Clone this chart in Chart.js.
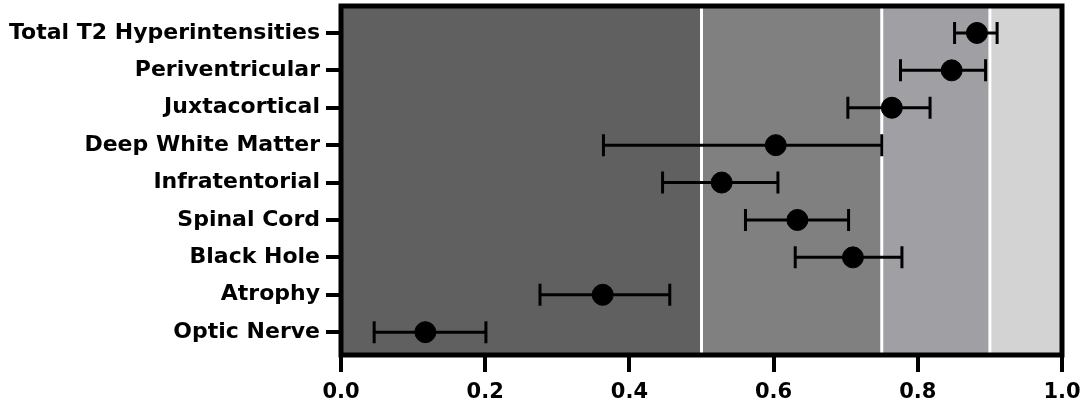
<!DOCTYPE html>
<html>
<head>
<meta charset="utf-8">
<script src="https://cdn.jsdelivr.net/npm/chart.js@4/dist/chart.umd.min.js"></script>
<style>
  html, body { margin: 0; padding: 0; background: #fff; }
  #wrap { width: 1084px; height: 405px; }
</style>
</head>
<body>
<div id="wrap"><canvas id="myChart" width="1084" height="405"></canvas></div>
<script>
const categories = [
  "Total T2 Hyperintensities",
  "Periventricular",
  "Juxtacortical",
  "Deep White Matter",
  "Infratentorial",
  "Spinal Cord",
  "Black Hole",
  "Atrophy",
  "Optic Nerve",
];
const means = [0.882, 0.847, 0.764, 0.603, 0.528, 0.633, 0.710, 0.363, 0.117];
const lower = [0.851, 0.776, 0.703, 0.364, 0.446, 0.561, 0.630, 0.276, 0.046];
const upper = [0.910, 0.894, 0.817, 0.750, 0.606, 0.704, 0.778, 0.456, 0.201];
const xTicks = [0, 0.2, 0.4, 0.6, 0.8, 1.0];

// background bands (x ranges) and their greys
const bandEdges = [0, 0.5, 0.75, 0.9, 1.0];
const bandColors = ["#606060", "#808080", "#a09fa3", "#d3d3d3"];

const fontFamily = "'DejaVu Sans', 'Liberation Sans', Arial, sans-serif";

const bandsPlugin = {
  id: "bands",
  beforeDatasetsDraw(chart) {
    const { ctx, chartArea: a, scales: { x } } = chart;
    ctx.save();
    for (let i = 0; i < bandColors.length; i++) {
      const x0 = x.getPixelForValue(bandEdges[i]);
      const x1 = x.getPixelForValue(bandEdges[i + 1]);
      ctx.fillStyle = bandColors[i];
      ctx.fillRect(x0, a.top, x1 - x0, a.bottom - a.top);
    }
    ctx.strokeStyle = "#ffffff";
    ctx.lineWidth = 3;
    for (let i = 1; i < bandEdges.length - 1; i++) {
      const px = x.getPixelForValue(bandEdges[i]);
      ctx.beginPath();
      ctx.moveTo(px, a.top);
      ctx.lineTo(px, a.bottom);
      ctx.stroke();
    }
    // frame
    ctx.strokeStyle = "#000";
    ctx.lineWidth = 5;
    ctx.strokeRect(a.left, a.top, a.right - a.left, a.bottom - a.top);
    ctx.restore();
  },
};

const errorBarPlugin = {
  id: "errorBars",
  beforeDatasetsDraw(chart) {
    const { ctx, scales: { x, y } } = chart;
    ctx.save();
    ctx.strokeStyle = "#000";
    ctx.lineWidth = 3;
    for (let i = 0; i < categories.length; i++) {
      const py = y.getPixelForValue(i);
      const xl = x.getPixelForValue(lower[i]);
      const xr = x.getPixelForValue(upper[i]);
      ctx.beginPath();
      ctx.moveTo(xl, py);
      ctx.lineTo(xr, py);
      ctx.moveTo(xl, py - 11);
      ctx.lineTo(xl, py + 11);
      ctx.moveTo(xr, py - 11);
      ctx.lineTo(xr, py + 11);
      ctx.stroke();
    }
    ctx.restore();
  },
};

const data = {
  datasets: [
    {
      label: "AUC",
      data: means.map((v, i) => ({ x: v, y: i })),
      backgroundColor: "#000",
      borderColor: "#000",
      pointRadius: 10.5,
      pointHoverRadius: 10.5,
    },
  ],
};

const config = {
  type: "scatter",
  data: data,
  options: {
    responsive: false,
    animation: false,
    layout: { autoPadding: false, padding: { left: 0, right: 22, top: 6, bottom: 0 } },
    plugins: {
      legend: { display: false },
      tooltip: { enabled: false },
    },
    scales: {
      x: {
        type: "linear",
        min: 0,
        max: 1,
        afterFit(scale) { scale.height = 50; scale.paddingLeft = 0; scale.paddingRight = 0; },
        afterBuildTicks(scale) { scale.ticks = xTicks.map(v => ({ value: v })); },
        border: { display: false },
        grid: {
          drawOnChartArea: false,
          color: "#000",
          lineWidth: 4,
          tickLength: 17,
        },
        ticks: {
          color: "#000",
          padding: 8,
          maxRotation: 0,
          font: { family: fontFamily, size: 21, weight: "bold" },
          callback: v => v.toFixed(1),
        },
      },
      y: {
        type: "linear",
        reverse: true,
        min: -0.72,
        max: 8.61,
        afterFit(scale) { scale.width = 341; scale.paddingTop = 0; scale.paddingBottom = 0; },
        afterBuildTicks(scale) { scale.ticks = categories.map((_, i) => ({ value: i })); },
        border: { display: false },
        grid: {
          drawOnChartArea: false,
          color: "#000",
          lineWidth: 4,
          tickLength: 15,
        },
        ticks: {
          color: "#000",
          padding: 6,
          font: { family: fontFamily, size: 22, weight: "bold" },
          callback: v => categories[v],
        },
      },
    },
  },
  plugins: [bandsPlugin, errorBarPlugin],
};

new Chart(document.getElementById("myChart"), config);
</script>
</body>
</html>
